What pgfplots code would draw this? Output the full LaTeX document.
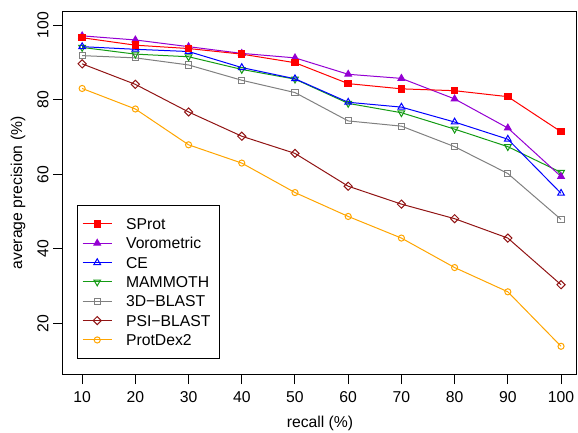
\documentclass[border=0pt]{standalone}
\usepackage{fontspec}
\setmainfont{Liberation Sans}
\usepackage{pgfplots}
\pgfplotsset{compat=1.18}
\definecolor{cSProt}{RGB}{255,0,0}
\definecolor{cVoro}{RGB}{148,0,211}
\definecolor{cCE}{RGB}{0,0,255}
\definecolor{cMam}{RGB}{20,155,20}
\definecolor{cBlast}{RGB}{128,128,128}
\definecolor{cPsi}{RGB}{145,20,20}
\definecolor{cDex}{RGB}{255,165,0}
\newcommand{\rfont}{\fontsize{11.8}{14}\selectfont}

\begin{document}
\begin{tikzpicture}
\useasboundingbox (-47.25pt,-43.3pt) rectangle (386.25pt,280.7pt);
\begin{axis}[
  at={(0pt,0pt)}, anchor=south west,
  scale only axis, width=385.5pt, height=272pt,
  xmin=6.4, xmax=103.0, ymin=6.4, ymax=103.6,
  xtick={10,20,...,100}, ytick={20,40,...,100},
  /pgf/number format/assume math mode=true,
  tick pos=left, tick align=outside,
  major tick length=7.3pt,
  axis line style={line width=0.75pt},
  every tick/.style={black, line width=0.75pt},
  tick label style={font=\rfont},
  xticklabel style={anchor=north, yshift=-2.2pt},
  yticklabel style={rotate=90, anchor=south},
  label style={font=\rfont},
  xlabel={recall (\%)},
  ylabel={average precision (\%)},
  xlabel style={at={(axis description cs:0.5,-0.1342)}, anchor=center},
  ylabel style={at={(axis description cs:-0.0876,0.5)}, anchor=center},
  every axis plot/.append style={line width=0.75pt},
  reverse legend,
  legend cell align=left,
  legend image code/.code={\draw[mark repeat=2,mark phase=2,#1] plot coordinates {(0pt,0pt) (10.9pt,0pt) (21.8pt,0pt)};},
  legend style={at={(0.0278,0.0414)}, anchor=south west, draw=black, line width=0.75pt,
    font=\rfont, inner xsep=3.3pt, inner ysep=6.85pt, row sep=0pt, column sep=10.4pt,
    nodes={inner sep=0pt, text height=11.45pt, text depth=3.05pt, text width=66.6pt, align=left}},
]
\addplot[color=cDex, mark=o, mark size=2.3pt, mark options={solid}]
  coordinates {(10,83.0) (20,77.5) (30,67.9) (40,63.0) (50,55.1) (60,48.7) (70,42.9) (80,35.0) (90,28.5) (100,13.9)};
\addlegendentry{ProtDex2}
\addplot[color=cPsi, mark=square, mark size=2.15pt, mark options={rotate=45}]
  coordinates {(10,89.6) (20,84.1) (30,76.7) (40,70.2) (50,65.6) (60,56.8) (70,52.0) (80,48.1) (90,42.9) (100,30.4)};
\addlegendentry{PSI−BLAST}
\addplot[color=cBlast, mark=square, mark size=2.3pt]
  coordinates {(10,91.8) (20,91.2) (30,89.3) (40,85.2) (50,81.9) (60,74.3) (70,72.9) (80,67.4) (90,60.2) (100,47.9)};
\addlegendentry{3D−BLAST}
\addplot[color=cMam, mark=triangle, mark size=2.9pt, mark options={rotate=180}]
  coordinates {(10,94.0) (20,92.2) (30,91.5) (40,88.1) (50,85.5) (60,79.0) (70,76.5) (80,72.1) (90,67.4) (100,60.5)};
\addlegendentry{MAMMOTH}
\addplot[color=cCE, mark=triangle, mark size=2.9pt]
  coordinates {(10,94.2) (20,93.5) (30,92.9) (40,88.6) (50,85.6) (60,79.3) (70,78.0) (80,74.0) (90,69.4) (100,54.9)};
\addlegendentry{CE}
\addplot[color=cVoro, mark=triangle*, mark size=2.9pt]
  coordinates {(10,97.1) (20,96.0) (30,94.2) (40,92.4) (50,91.2) (60,86.8) (70,85.7) (80,80.2) (90,72.4) (100,59.4)};
\addlegendentry{Vorometric}
\addplot[color=cSProt, mark=square*, mark size=2.4pt]
  coordinates {(10,96.6) (20,94.6) (30,93.7) (40,92.2) (50,89.9) (60,84.3) (70,82.9) (80,82.4) (90,80.8) (100,71.4)};
\addlegendentry{SProt}
\end{axis}
\end{tikzpicture}
\end{document}
